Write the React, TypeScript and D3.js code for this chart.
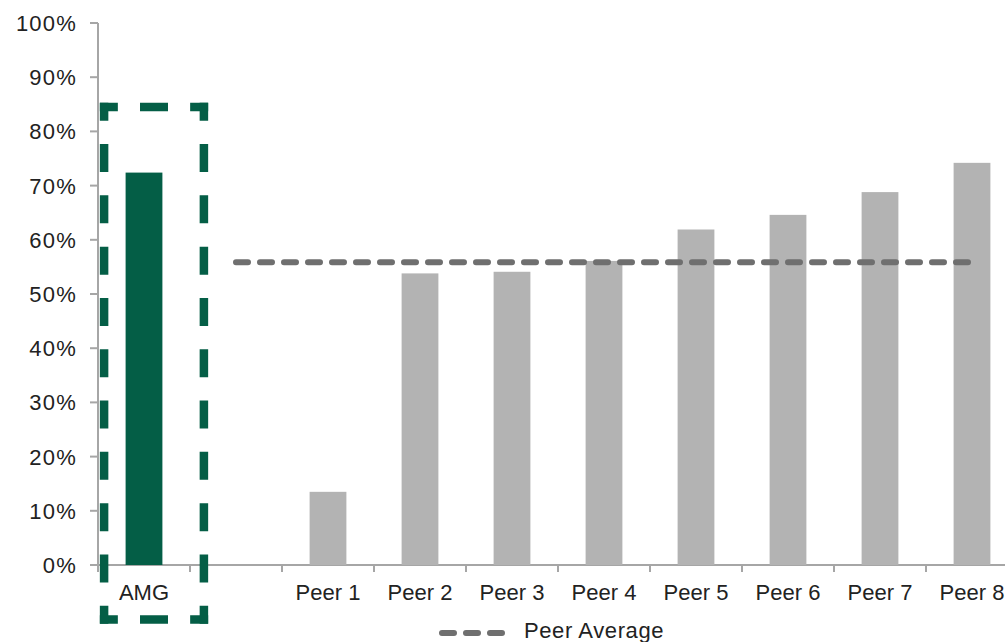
import * as d3 from "d3";
import { useEffect, useRef } from "react";

// chart data
const categories = ["AMG", "", "Peer 1", "Peer 2", "Peer 3", "Peer 4", "Peer 5", "Peer 6", "Peer 7", "Peer 8"];
const values: (number | null)[] = [72.4, null, 13.5, 53.8, 54.1, 56.1, 61.9, 64.6, 68.8, 74.2];
const highlight = ["AMG"];
const yTicks = [0, 10, 20, 30, 40, 50, 60, 70, 80, 90, 100];
const legendLabel = "Peer Average";

const GREEN = "#045e46";
const GREY_BAR = "#b3b3b3";
const AXIS = "#a6a6a6";
const AVG = "#6f6f6f";
const TEXT = "#222";
const FONT = "'Liberation Sans', Arial, sans-serif";

export default function App() {
  const ref = useRef<SVGSVGElement>(null);

  useEffect(() => {
    const width = 1005;
    const height = 642;
    const svg = d3.select(ref.current);
    svg.selectAll("*").remove();

    const x = d3
      .scaleBand()
      .domain(categories)
      .range([98, 1018])
      .paddingInner(0.6)
      .paddingOuter(0.3);
    const y = d3.scaleLinear().domain([0, 100]).range([565, 23]);

    // y axis
    const yAxis = svg.append("g").attr("transform", "translate(98,0)");
    yAxis
      .append("line")
      .attr("y1", y(100))
      .attr("y2", y(0) + 7)
      .attr("stroke", AXIS)
      .attr("stroke-width", 2);
    yAxis
      .selectAll("line.tick")
      .data(yTicks)
      .enter()
      .append("line")
      .attr("class", "tick")
      .attr("x1", -8)
      .attr("x2", 0)
      .attr("y1", (d) => y(d))
      .attr("y2", (d) => y(d))
      .attr("stroke", AXIS)
      .attr("stroke-width", 2);
    yAxis
      .selectAll("text")
      .data(yTicks)
      .enter()
      .append("text")
      .attr("x", -21)
      .attr("y", (d) => y(d) + 8)
      .attr("text-anchor", "end")
      .attr("font-family", FONT)
      .attr("font-size", 22)
      .attr("letter-spacing", 1.2)
      .attr("fill", TEXT)
      .text((d) => d + "%");

    // x axis
    const step = x.step();
    svg
      .append("line")
      .attr("x1", 98)
      .attr("x2", width)
      .attr("y1", y(0))
      .attr("y2", y(0))
      .attr("stroke", AXIS)
      .attr("stroke-width", 2);
    svg
      .selectAll("line.xtick")
      .data(categories)
      .enter()
      .append("line")
      .attr("class", "xtick")
      .attr("x1", (d) => x(d)! + x.bandwidth() / 2 + step / 2)
      .attr("x2", (d) => x(d)! + x.bandwidth() / 2 + step / 2)
      .attr("y1", y(0))
      .attr("y2", y(0) + 7)
      .attr("stroke", AXIS)
      .attr("stroke-width", 2);
    svg
      .selectAll("text.xlabel")
      .data(categories)
      .enter()
      .append("text")
      .attr("class", "xlabel")
      .attr("x", (d) => x(d)! + x.bandwidth() / 2)
      .attr("y", 600)
      .attr("text-anchor", "middle")
      .attr("font-family", FONT)
      .attr("font-size", 22)
      .attr("fill", TEXT)
      .text((d) => d);

    // bars
    const barData = categories
      .map((c, i) => ({ key: c, value: values[i] }))
      .filter((d) => d.value != null);
    svg
      .selectAll("rect.bar")
      .data(barData)
      .enter()
      .append("rect")
      .attr("class", "bar")
      .attr("x", (d) => x(d.key)!)
      .attr("width", x.bandwidth())
      .attr("y", (d) => y(d.value as number))
      .attr("height", (d) => y(0) - y(d.value as number))
      .attr("fill", (d) => (highlight.includes(d.key) ? GREEN : GREY_BAR));

    // peer average line (from the empty slot through Peer 8)
    const peerValues = values.slice(2) as number[];
    const avg = d3.mean(peerValues) as number;
    const avgCats = categories.slice(1);
    const line = d3
      .line<string>()
      .x((d) => x(d)! + x.bandwidth() / 2)
      .y(() => y(avg));
    svg
      .append("path")
      .attr("d", line(avgCats))
      .attr("fill", "none")
      .attr("stroke", AVG)
      .attr("stroke-width", 6)
      .attr("stroke-linecap", "round")
      .attr("stroke-dasharray", "12 12");

    // dashed highlight box around AMG
    const w = 8.5;
    const bx = x("AMG")!;
    const box = { x0: bx - 21.5, x1: bx + x.bandwidth() + 41.5, y0: 107, y1: 619.5 };
    const corner = 18;
    const dash = 28;
    const sideDash = (len: number) => {
      const total = len + w;
      const n = Math.round((total - 2 * corner - 23) / (dash + 23));
      const g = (total - 2 * corner - n * dash) / (n + 1);
      const parts: number[] = [corner, g];
      for (let i = 0; i < n; i++) parts.push(dash, g);
      parts.push(corner, 1000);
      return parts.join(" ");
    };
    const sides = [
      [box.x0 - w / 2, box.y0, box.x1 + w / 2, box.y0],
      [box.x0 - w / 2, box.y1, box.x1 + w / 2, box.y1],
      [box.x0, box.y0 - w / 2, box.x0, box.y1 + w / 2],
      [box.x1, box.y0 - w / 2, box.x1, box.y1 + w / 2],
    ];
    svg
      .selectAll("line.box")
      .data(sides)
      .enter()
      .append("line")
      .attr("class", "box")
      .attr("x1", (d) => d[0])
      .attr("y1", (d) => d[1])
      .attr("x2", (d) => d[2])
      .attr("y2", (d) => d[3])
      .attr("stroke", GREEN)
      .attr("stroke-width", w)
      .attr("stroke-dasharray", (d) => sideDash(Math.hypot(d[2] - d[0], d[3] - d[1]) - w));

    // legend
    const lg = svg.append("g");
    lg.append("line")
      .attr("x1", 442)
      .attr("x2", 505)
      .attr("y1", 633)
      .attr("y2", 633)
      .attr("stroke", AVG)
      .attr("stroke-width", 6)
      .attr("stroke-linecap", "round")
      .attr("stroke-dasharray", "12 12");
    lg.append("text")
      .attr("x", 524)
      .attr("y", 638)
      .attr("font-family", FONT)
      .attr("font-size", 22)
      .attr("letter-spacing", 0.6)
      .attr("fill", TEXT)
      .text(legendLabel);

    svg.attr("width", width).attr("height", height);
  }, []);

  return (
    <svg
      ref={ref}
      width={1005}
      height={642}
      style={{ position: "fixed", left: 0, top: 0, background: "#fff", display: "block" }}
    />
  );
}
